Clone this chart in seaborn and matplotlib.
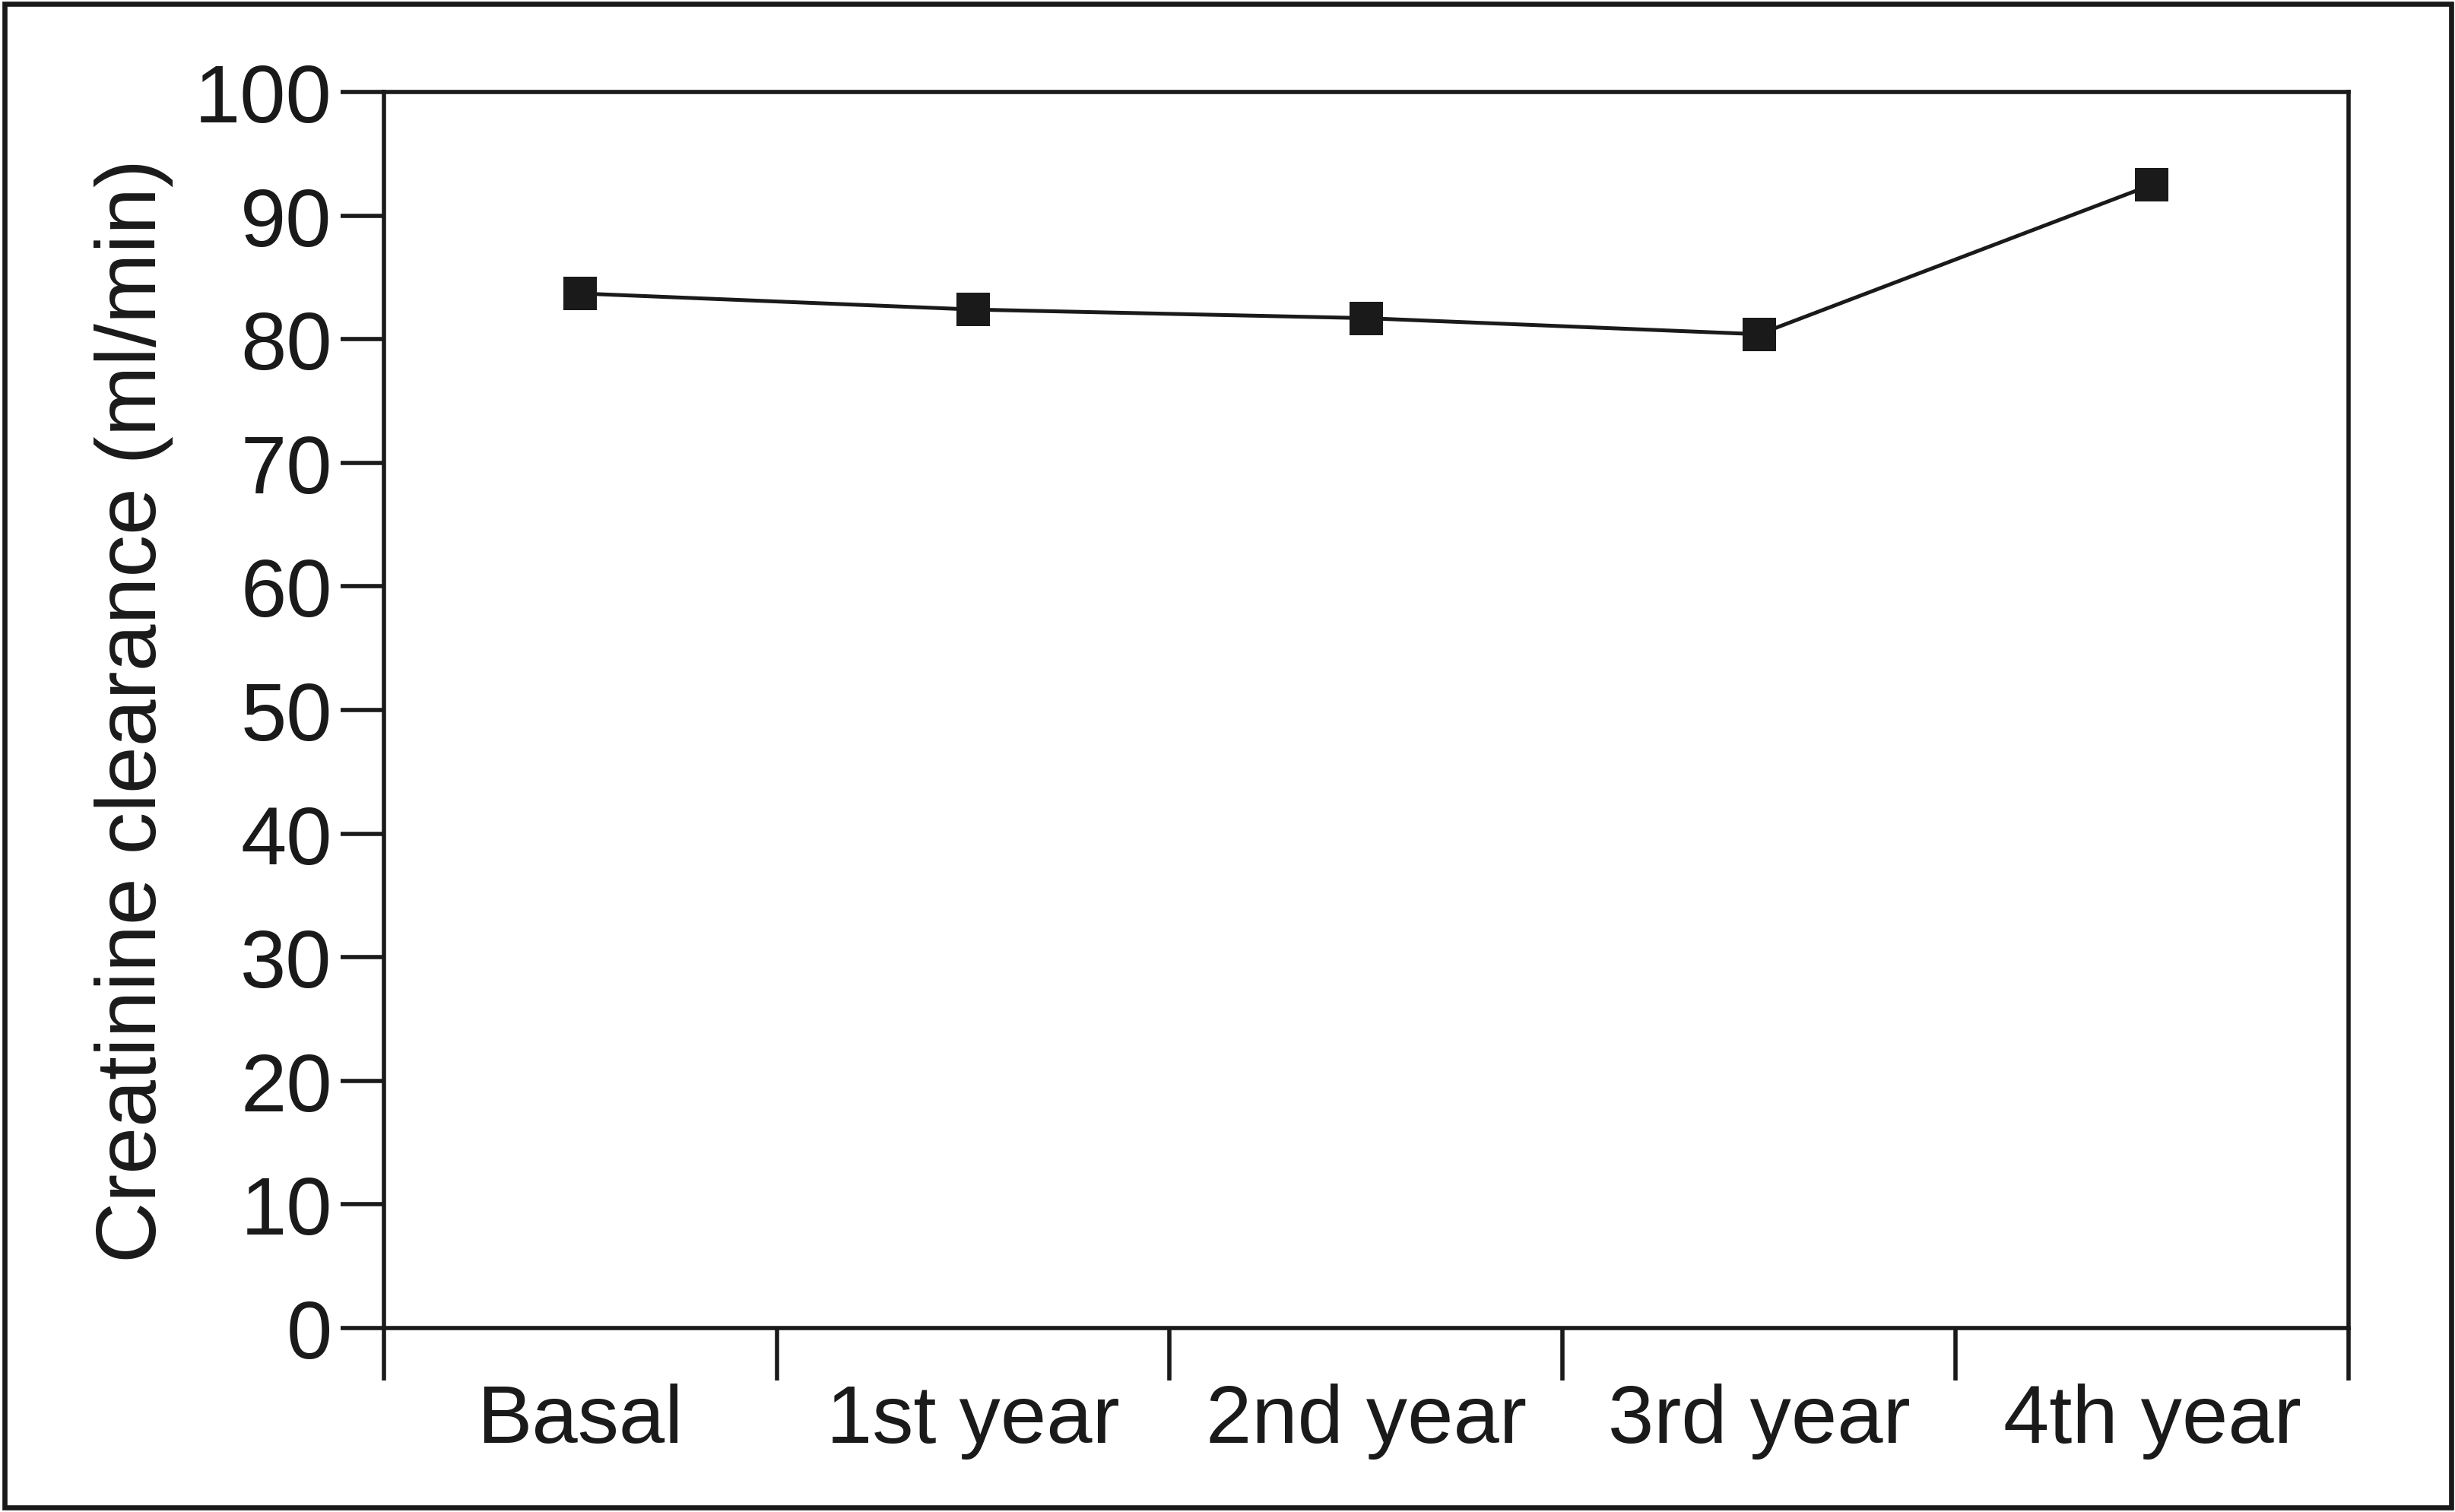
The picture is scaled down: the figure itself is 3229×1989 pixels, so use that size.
import matplotlib
matplotlib.use("Agg")
import matplotlib.pyplot as plt
import seaborn as sns
from matplotlib.patches import Rectangle
from matplotlib.ticker import FixedLocator

# data
periods = ["Basal", "1st year", "2nd year", "3rd year", "4th year"]
clearance = [83.7, 82.4, 81.7, 80.4, 92.5]
y_ticks = [0, 10, 20, 30, 40, 50, 60, 70, 80, 90, 100]

sns.set_style("ticks")
plt.rcParams['font.family'] = ['Liberation Sans', 'DejaVu Sans']
ink = "#1a1a1a"

fig = plt.figure(figsize=(16.15, 9.95), dpi=200)
ax = fig.add_axes([0.1563, 0.1216, 0.9563 - 0.1563, 0.9387 - 0.1216])

sns.pointplot(x=periods, y=clearance, ax=ax, color=ink, errorbar=None,
              marker="s", markersize=15.5, markeredgewidth=0, linewidth=1.8)

ax.set_xlim(-0.5, len(periods) - 0.5)
ax.set_ylim(0, 100)
ax.set_yticks(y_ticks)
ax.set_yticklabels([str(t) for t in y_ticks])

# category labels centred, ticks on the boundaries between them
ax.xaxis.set_minor_locator(FixedLocator([i - 0.5 for i in range(len(periods) + 1)]))
ax.tick_params(axis="x", which="major", length=0, pad=26, labelsize=39, colors=ink)
ax.tick_params(axis="x", which="minor", length=25, width=2.0, color=ink, direction="out")
ax.tick_params(axis="y", length=20.5, width=2.0, pad=4, labelsize=39, colors=ink, direction="out")

for side in ["top", "right", "left", "bottom"]:
    ax.spines[side].set_visible(True)
    ax.spines[side].set_linewidth(2.0)
    ax.spines[side].set_color(ink)

ax.set_xlabel("")
ax.set_ylabel("Creatinine clearance (ml/min)", fontsize=40, color=ink, labelpad=10)

# frame round the whole picture
fig.patches.append(Rectangle((0.002, 0.003), 0.996, 0.994, transform=fig.transFigure,
                             fill=False, edgecolor=ink, linewidth=2.4))

fig.savefig("out.png", dpi=200)
